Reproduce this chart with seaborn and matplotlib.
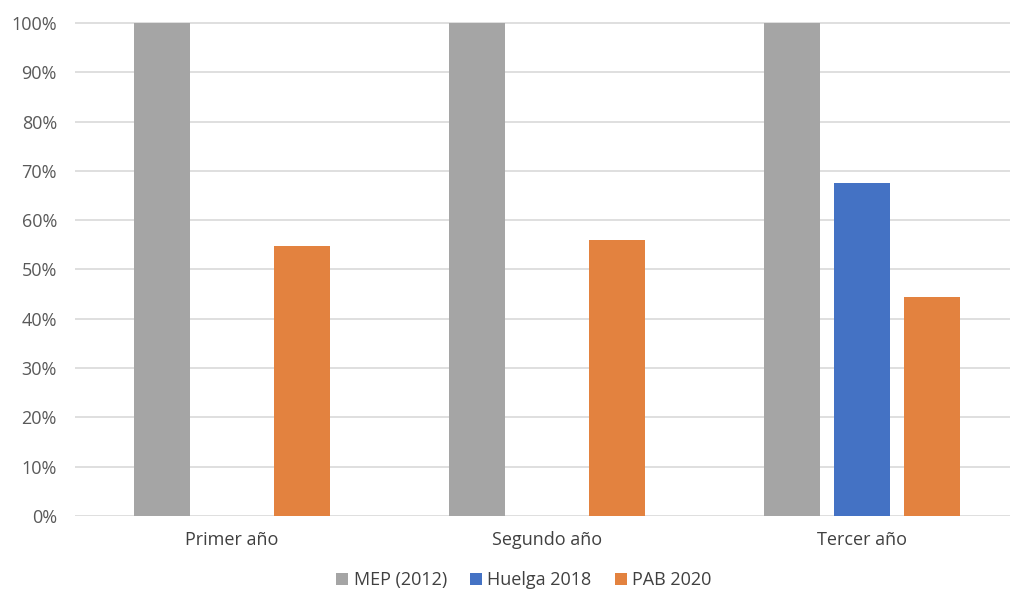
import numpy as np
import pandas as pd
import seaborn as sns
import matplotlib
matplotlib.use("Agg")
import matplotlib.pyplot as plt
from matplotlib.ticker import PercentFormatter, MultipleLocator
from matplotlib.patches import Patch

categories = ["Primer año", "Segundo año", "Tercer año"]
series = ["MEP (2012)", "Huelga 2018", "PAB 2020"]
mep_2012 = [1.00, 1.00, 1.00]
huelga_2018 = [np.nan, np.nan, 0.675]
pab_2020 = [0.547, 0.559, 0.445]
colors = ["#A5A5A5", "#4472C4", "#E3823F"]

rows = []
for s, vals in zip(series, [mep_2012, huelga_2018, pab_2020]):
    for c, v in zip(categories, vals):
        rows.append({"cat": c, "serie": s, "val": v})
df = pd.DataFrame(rows)

sns.set_theme(style="white")
plt.rcParams["font.family"] = ["Open Sans", "DejaVu Sans"]

fig = plt.figure(figsize=(10.1, 5.9), dpi=100)
ax = fig.add_axes([75 / 1010, 1 - 516 / 590, 1 - 75 / 1010, (516 - 22) / 590])

sns.barplot(data=df, x="cat", y="val", hue="serie", order=categories,
            hue_order=series, palette=colors, width=0.667, gap=0.21,
            errorbar=None, ax=ax, legend=False, saturation=1, zorder=3,
            linewidth=0, edgecolor="none")

ax.set_ylim(0, 1.002)
ax.set_xlim(-0.498, 2.47)
ax.yaxis.set_major_locator(MultipleLocator(0.1))
ax.yaxis.set_major_formatter(PercentFormatter(1.0, decimals=0))
ax.grid(axis="y", color="#D9D9D9", linewidth=1.2, zorder=0)
ax.set_axisbelow(True)
for sp in ax.spines.values():
    sp.set_visible(False)
ax.set_xlabel("")
ax.set_ylabel("")
ax.tick_params(axis="y", length=0, pad=13, labelsize=13, labelcolor="#595959")
ax.tick_params(axis="x", length=0, pad=11, labelsize=13, labelcolor="#404040")

handles = [Patch(facecolor=c, edgecolor="none") for c in colors]
fig.legend(handles, series, loc="center", bbox_to_anchor=(524 / 1010, 1 - 580 / 590),
           ncol=3, frameon=False, fontsize=13, handlelength=0.65, handleheight=0.65,
           handletextpad=0.3, columnspacing=1.3, labelcolor="#404040")

fig.savefig("out.png", dpi=100)
